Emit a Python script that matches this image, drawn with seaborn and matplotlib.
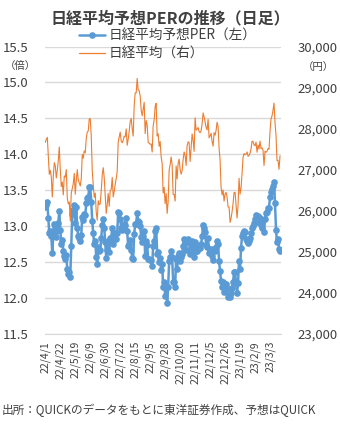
import numpy as np
import matplotlib
matplotlib.use("Agg")
import matplotlib.pyplot as plt
import seaborn as sns
from matplotlib.lines import Line2D

# ---- data ----
tick_labels = ["22/4/1", "22/4/22", "22/5/19", "22/6/9", "22/6/30", "22/7/22",
               "22/8/15", "22/9/5", "22/9/28", "22/10/20", "22/11/11", "22/12/5",
               "22/12/26", "23/1/19", "23/2/9", "23/3/3"]

per = [13.27,13.30,13.33,13.12,12.90,12.94,12.86,12.63,12.87,13.03,
       12.99,12.85,12.94,13.05,13.21,12.95,12.75,12.81,12.66,12.58,
       12.55,12.60,12.40,12.33,12.36,12.29,12.72,13.17,13.23,13.30,
       13.05,13.27,12.98,12.86,12.83,12.79,12.88,13.13,13.08,13.17,
       13.15,13.32,13.39,13.40,13.54,13.55,13.34,13.07,12.90,12.75,
       12.80,12.57,12.48,12.71,12.66,12.67,12.83,13.01,13.10,12.98,
       12.78,12.56,12.67,12.80,12.64,12.83,12.84,12.98,12.75,12.82,
       12.90,12.82,12.90,13.20,13.18,13.10,12.97,12.95,12.98,13.03,
       13.02,13.11,12.93,12.73,12.75,12.81,12.67,12.56,12.55,12.89,
       13.03,13.03,13.19,13.07,13.06,13.00,12.85,12.78,12.86,12.93,
       12.59,12.79,12.74,12.54,12.54,12.53,12.53,12.44,12.73,12.80,
       12.94,12.98,12.62,12.64,12.50,12.56,12.39,12.48,12.15,12.22,
       12.03,12.15,11.93,12.15,12.51,12.57,12.66,12.57,12.23,12.23,
       12.16,12.55,12.41,12.58,12.63,12.51,12.57,12.61,12.73,12.82,
       12.78,12.67,12.80,12.82,12.78,12.62,12.70,12.80,12.68,12.57,
       12.78,12.65,12.66,12.72,12.69,12.70,12.75,12.86,13.02,12.97,
       12.92,12.74,12.71,12.83,12.63,12.65,12.68,12.58,12.53,12.68,
       12.66,12.71,12.80,12.75,12.51,12.38,12.24,12.16,12.22,12.09,
       12.17,12.19,12.14,12.02,12.03,12.02,12.07,12.14,12.23,12.36,
       12.36,12.21,12.07,12.21,12.52,12.40,12.70,12.86,12.90,12.93,
       12.92,12.82,12.80,12.76,12.80,12.84,12.90,12.97,13.00,13.04,
       13.10,13.15,13.06,13.14,13.08,13.12,13.02,12.98,13.08,12.92,
       13.10,13.18,13.20,13.25,13.26,13.40,13.48,13.52,13.56,13.62,
       13.32,12.95,12.78,12.82,12.68,12.65]

nikkei = [27666,27736,27788,27350,26889,26986,26822,26335,26843,27172,
          27093,26800,26985,27218,27553,27000,26591,26700,26387,26848,
          26819,27004,26319,26167,26214,25749,26428,26547,26660,26911,
          26403,26739,27002,26748,26678,26605,26782,27369,27280,27458,
          27414,27762,27916,27944,28234,28247,27824,26987,26630,26326,
          26431,25963,25771,26246,26150,26171,26492,26871,27049,26805,
          26393,25936,26154,26423,26108,26491,26517,26812,26337,26479,
          26643,26788,26962,27680,27803,27915,27699,27655,27716,27815,
          27802,27993,27595,27742,27932,28176,28249,28000,27819,28547,
          28872,28869,29223,28942,28930,28795,28453,28313,28479,28641,
          27879,28196,28092,27661,27651,27620,27627,27430,28065,28215,
          28542,28615,27819,27876,27568,27688,27313,27154,26432,26572,
          26174,26422,25937,26216,26992,27121,27311,27116,26401,26397,
          26237,27091,26776,27156,27257,27007,26891,26975,27250,27432,
          27345,27105,27587,27679,27663,27200,27528,27872,27716,27446,
          28264,27963,27990,28028,27931,27900,27945,28116,28383,28283,
          28163,28028,27969,28226,27778,27820,27886,27686,27574,27901,
          27842,27955,28156,28052,27527,27238,26568,26388,26508,26235,
          26406,26448,26341,26094,26095,25717,25821,25974,26176,26446,
          26450,26120,25822,26139,26791,26405,26554,26906,27299,27395,
          27363,27383,27433,27327,27347,27402,27509,27694,27685,27606,
          27584,27671,27427,27603,27502,27696,27513,27532,27473,27104,
          27453,27424,27446,27517,27499,27927,28238,28309,28444,28623,
          28144,27833,27222,27229,27011,27334]

per_label = "日経平均予想PER（左）"
nk_label = "日経平均（右）"
title = "日経平均予想PERの推移（日足）"
source = "出所：QUICKのデータをもとに東洋証券作成、予想はQUICK"

# ---- style ----
sns.set_style("white")
plt.rcParams['font.family'] = ['Noto Sans CJK JP', 'DejaVu Sans']

BLUE = "#5B9BD5"
ORANGE = "#ED7D31"
GRID = "#D9D9D9"
TXT = "#404040"

fig = plt.figure(figsize=(3.4, 4.26), dpi=100)
ax = fig.add_axes([45/340, 1-334/426, (281-45)/340, (334-46.5)/426])
ax2 = ax.twinx()

x = np.arange(len(per))
sns.lineplot(x=x, y=per, ax=ax, color=BLUE, linewidth=1.8, marker='o',
             markersize=4.8, markeredgewidth=0, legend=False)
sns.lineplot(x=x, y=nikkei, ax=ax2, color=ORANGE, linewidth=0.8, legend=False)

ax.set_ylim(11.5, 15.5)
ax.set_yticks(np.arange(11.5, 15.51, 0.5))
ax.set_yticklabels([f"{v:.1f}" for v in np.arange(11.5, 15.51, 0.5)])
ax2.set_ylim(23000, 30000)
ax2.set_yticks(np.arange(23000, 30001, 1000))
ax2.set_yticklabels([f"{int(v):,}" for v in np.arange(23000, 30001, 1000)])
ax.set_xlim(-0.3, 236)
ax.set_xticks(np.arange(0, 15 * len(tick_labels), 15))
ax.set_xticklabels(tick_labels, rotation=90)

ax.yaxis.grid(True, color=GRID, linewidth=1)
ax.set_axisbelow(True)
for a in (ax, ax2):
    for s in a.spines.values():
        s.set_visible(False)
ax.spines['bottom'].set_visible(True)
ax.spines['bottom'].set_color(GRID)
ax.tick_params(axis='y', length=0, labelsize=9.5, colors=TXT, pad=12)
ax2.tick_params(axis='y', length=0, labelsize=9.5, colors=TXT, pad=12)
ax.tick_params(axis='x', length=4, color=GRID, labelsize=7.5, colors=TXT, pad=1)
ax.set_xlabel("")
ax.set_ylabel("")
ax2.set_ylabel("")

fig.text(0.5, 1-18/426, title, ha='center', va='center', fontsize=11.5,
         fontweight='bold', color=TXT)
fig.text(20/340, 1-66/426, "（倍）", ha='center', va='center', fontsize=7.5, color=TXT)
fig.text(318/340, 1-67/426, "（円）", ha='center', va='center', fontsize=7.5, color=TXT)
fig.text(2/340, 1-410/426, source, ha='left', va='center', fontsize=8.4, color=TXT)

handles = [Line2D([], [], color=BLUE, linewidth=1.8, marker='o', markersize=4.8,
                  markeredgewidth=0),
           Line2D([], [], color=ORANGE, linewidth=0.9)]
fig.legend(handles, [per_label, nk_label], loc='upper left',
           bbox_to_anchor=(79/340, 1-29/426), frameon=False, fontsize=9.8,
           handlelength=1.9, handletextpad=0.3, labelspacing=0.3,
           borderaxespad=0, borderpad=0, labelcolor=TXT)

fig.savefig("out.png", dpi=100)
